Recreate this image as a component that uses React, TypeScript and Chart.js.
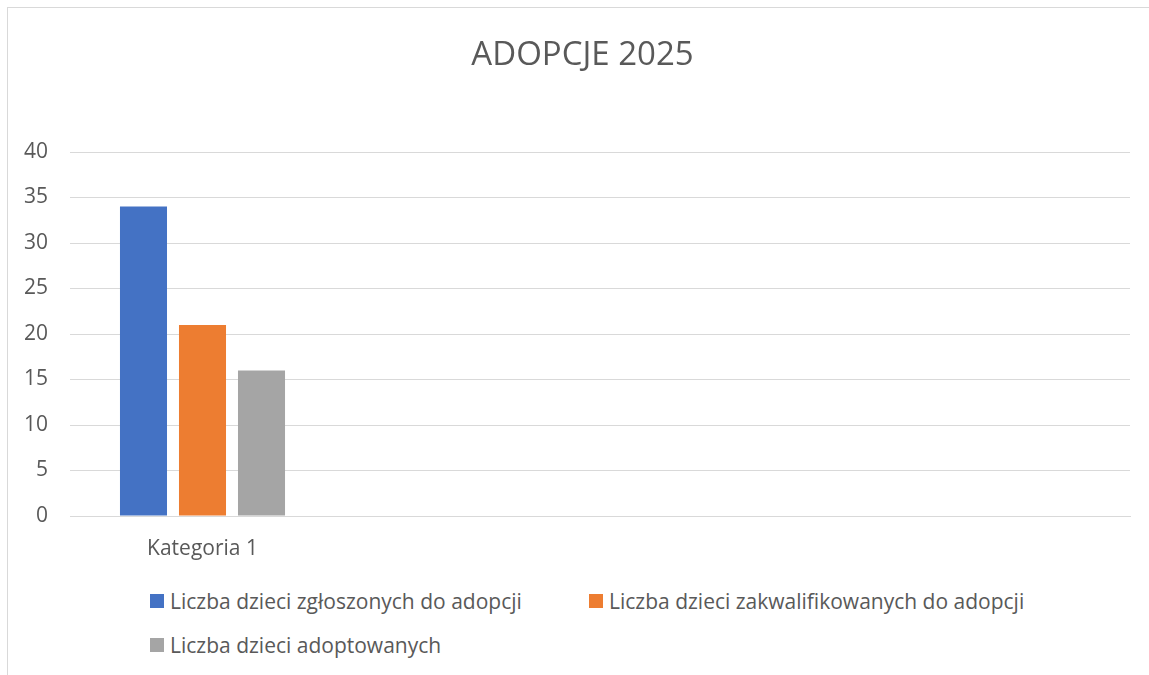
import React, { useEffect, useRef } from "react";
import { Chart, registerables } from "chart.js";

Chart.register(...registerables);

const title = "ADOPCJE 2025";
const categories = ["Kategoria 1", "", "", ""];
const seriesNames = [
  "Liczba dzieci zgłoszonych do adopcji",
  "Liczba dzieci zakwalifikowanych do adopcji",
  "Liczba dzieci adoptowanych",
];
const seriesColors = ["#4472C4", "#ED7D31", "#A5A5A5"];
const zgloszone = [34, null, null, null];
const zakwalifikowane = [21, null, null, null];
const adoptowane = [16, null, null, null];
const yTicks = [0, 5, 10, 15, 20, 25, 30, 35, 40];

const FONT = "'Open Sans', sans-serif";
const TEXT = "#595959";
const GRID = "#D9D9D9";

export default function App() {
  const ref = useRef<HTMLCanvasElement | null>(null);

  useEffect(() => {
    if (!ref.current) return;
    const values = [zgloszone, zakwalifikowane, adoptowane];
    const chart = new Chart(ref.current, {
      type: "bar",
      data: {
        labels: categories,
        datasets: seriesNames.map((name, i) => ({
          label: name,
          data: values[i],
          backgroundColor: seriesColors[i],
          borderWidth: 0,
          categoryPercentage: 0.668,
          barPercentage: 0.797,
        })),
      },
      options: {
        responsive: false,
        animation: false,
        devicePixelRatio: 1,
        layout: { padding: 0 },
        plugins: {
          legend: { display: false },
          tooltip: { enabled: false },
          title: {
            display: true,
            text: title,
            color: TEXT,
            font: { family: FONT, size: 33, weight: "normal" },
            padding: { top: 27.5, bottom: 76.9 },
          },
        },
        scales: {
          x: {
            offset: true,
            grid: { display: false, drawTicks: false },
            border: { display: true, color: GRID, width: 1 },
            ticks: {
              color: TEXT,
              font: { family: FONT, size: 21 },
              padding: 20,
              maxRotation: 0,
              autoSkip: false,
            },
            afterFit: (s: any) => {
              s.height = 52;
            },
          },
          y: {
            min: 0,
            max: 40,
            grid: { color: GRID, drawTicks: false, lineWidth: 1 },
            border: { display: false },
            afterBuildTicks: (s: any) => {
              s.ticks = yTicks.map((v) => ({ value: v }));
            },
            ticks: {
              color: TEXT,
              font: { family: FONT, size: 21 },
              padding: 22,
            },
            afterFit: (s: any) => {
              s.width = 62;
            },
          },
          spacer: {
            type: "linear",
            position: "right",
            display: true,
            grid: { display: false, drawTicks: false },
            border: { display: false },
            ticks: { display: false },
            afterFit: (s: any) => {
              s.width = 27;
            },
          },
        },
      },
    });
    return () => chart.destroy();
  }, []);

  return (
    <div
      style={{
        position: "fixed",
        left: 7,
        top: 7,
        width: 1142,
        height: 668,
        boxSizing: "border-box",
        borderLeft: "1px solid #D9D9D9",
        borderTop: "1px solid #D9D9D9",
        overflow: "hidden",
        background: "#fff",
      }}
    >
      <canvas
        ref={ref}
        width={1149}
        height={560}
        style={{ position: "absolute", left: 0, top: 0, width: 1149, height: 560 }}
      />
      <div
        style={{
          position: "absolute",
          left: 142,
          top: 571,
          display: "grid",
          gridTemplateColumns: "439px auto",
          gridAutoRows: "44px",
          fontFamily: FONT,
          fontSize: 21,
          color: TEXT,
        }}
      >
        {seriesNames.map((name, i) => (
          <div key={name} style={{ display: "flex", alignItems: "center", whiteSpace: "nowrap" }}>
            <span
              style={{
                display: "inline-block",
                width: 14,
                height: 14,
                background: seriesColors[i],
                marginRight: 6,
              }}
            />
            <span>{name}</span>
          </div>
        ))}
      </div>
    </div>
  );
}
